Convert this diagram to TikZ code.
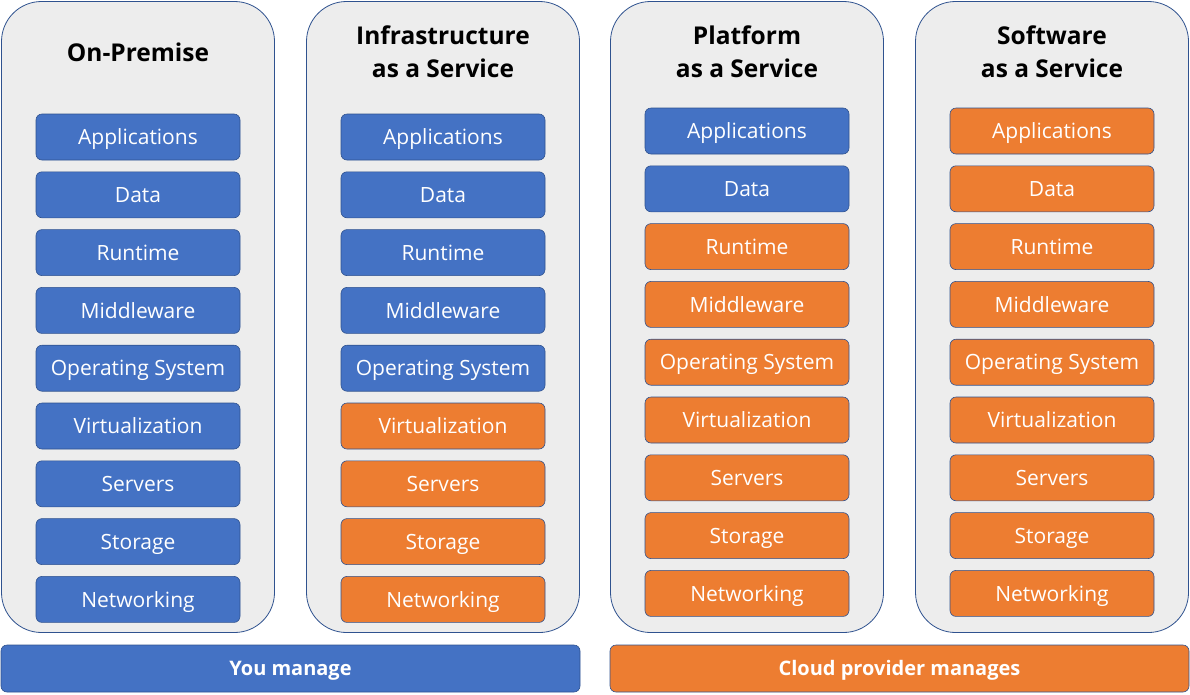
\documentclass[tikz,border=0pt]{standalone}
\usepackage{fontspec}
\setmainfont{Open Sans}
\usetikzlibrary{positioning}
\definecolor{mgblue}{HTML}{4472C4}
\definecolor{mgorange}{HTML}{ED7D31}
\definecolor{panelgray}{HTML}{EDEDED}
\definecolor{edgeblue}{HTML}{2F528F}

\begin{document}
\begin{tikzpicture}[x=1pt, y=-1pt,
  panel/.style={draw=edgeblue, fill=panelgray, line width=0.8pt, rounded corners=40pt, minimum width=273pt, minimum height=631pt},
  layer/.style={draw=edgeblue, line width=0.6pt, rounded corners=6pt, minimum width=204pt, minimum height=46pt, text=white, text height=15.3pt, text depth=0pt, font=\fontsize{21}{26}\selectfont},
  title/.style={align=center, font=\bfseries\fontsize{24.5}{33}\selectfont},
  bar/.style={draw=edgeblue, line width=0.6pt, rounded corners=6pt, minimum width=579pt, minimum height=47pt, text=white, text height=14.6pt, text depth=0pt, font=\bfseries\fontsize{20}{26}\selectfont}
  ]
  \useasboundingbox (0,0) rectangle (1190,694);
  % the four columns
  \node[panel] (onprem) at (138,317) {};
  \node[panel] (iaas) at (443,317) {};
  \node[panel] (paas) at (747,317) {};
  \node[panel] (saas) at (1052,317) {};
  \node[title] (onprem-title) at (138,52) {On-Premise};
  \node[title] (iaas-title) at (443,52) {Infrastructure\\as a Service};
  \node[title] (paas-title) at (747,52) {Platform\\as a Service};
  \node[title] (saas-title) at (1052,52) {Software\\as a Service};
  % stack of layers, blue = you, orange = provider
  \foreach \pname/\px/\py/\cut in {onprem/138/137/9, iaas/443/137/5, paas/747/131/2, saas/1052/131/0} {
    \foreach \lbl [count=\i] in {Applications, Data, Runtime, Middleware, Operating System, Virtualization, Servers, Storage, Networking} {
      \ifnum\i>\cut \def\lcol{mgorange}\else \def\lcol{mgblue}\fi
      \node[layer, fill=\lcol] (\pname-\i) at (\px, \py+57.8*\i-57.8) {\lbl};
    }
  }
  % who manages
  \node[bar, fill=mgblue] (you) at (290.5,668.5) {You manage};
  \node[bar, fill=mgorange] (cloud) at (899.5,668.5) {Cloud provider manages};
\end{tikzpicture}
\end{document}
